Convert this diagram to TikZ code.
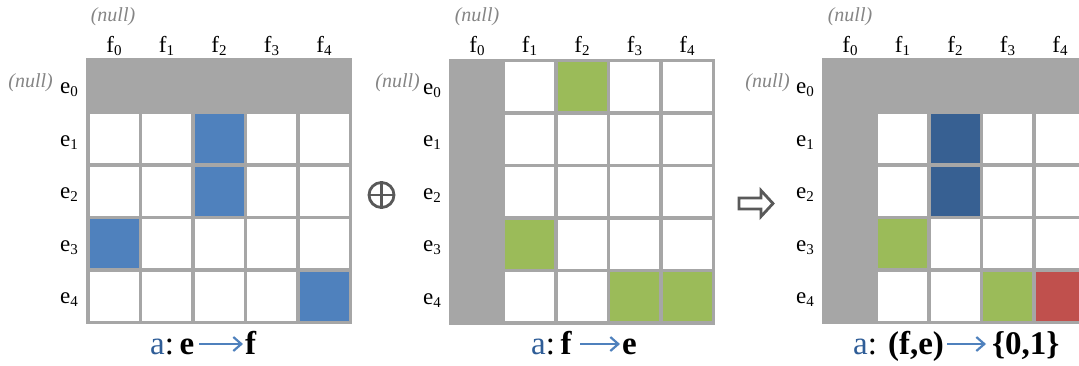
\documentclass[tikz,border=0pt]{standalone}
\usepackage{fontspec}
\setmainfont{Liberation Serif}
\usetikzlibrary{arrows.meta}
\definecolor{gridgray}{HTML}{A6A6A6}
\definecolor{cblue}{HTML}{4F81BD}
\definecolor{cdblue}{HTML}{376092}
\definecolor{cgreen}{HTML}{9BBB59}
\definecolor{cred}{HTML}{C0504D}
\definecolor{nullgray}{HTML}{858585}
\definecolor{ablue}{HTML}{2F5D97}
\definecolor{opgray}{HTML}{595959}
\newcommand\mysub[1]{\raisebox{-3pt}{\fontsize{15}{15}\selectfont #1}}
\def\pp{52.5}
\def\ww{3.6}
\newcommand\mycell[5]{\fill[#5] ({#1+\ww+#3*\pp},{#2+\ww+#4*\pp}) rectangle ++({\pp-\ww},{\pp-\ww});}
\begin{document}
\begin{tikzpicture}[x=1pt,y=-1pt,
  lbl/.style={font=\fontsize{23}{27}\selectfont, inner sep=0pt},
  nulllbl/.style={font=\fontsize{20}{24}\selectfont\itshape, text=nullgray, inner sep=0pt},
  captext/.style={font=\fontsize{33}{39}\selectfont, inner sep=0pt},
  maparrow/.style={draw=cblue, line width=2.2pt, -{Straight Barb[length=8pt,width=14pt]}},
  opline/.style={draw=opgray, line width=2.8pt}
]
\useasboundingbox (0,0) rectangle (1079,365);
\clip (0,0) rectangle (1079,365);

% ---------- left grid: a: e -> f ----------
\fill[gridgray] (86,58) rectangle ++({5*\pp+\ww},{5*\pp+\ww});
\foreach \i in {0,...,4} \foreach \j in {1,...,4} {\mycell{86}{58}{\i}{\j}{white}}
\mycell{86}{58}{2}{1}{cblue}
\mycell{86}{58}{2}{2}{cblue}
\mycell{86}{58}{0}{3}{cblue}
\mycell{86}{58}{4}{4}{cblue}
\foreach \i in {0,...,4} \node[lbl, anchor=base] (Lf\i) at ({86+\ww/2+(\i+0.5)*\pp},52) {f\mysub{\i}};
\foreach \j in {0,...,4} \node[lbl, anchor=base east] (Le\j) at (78,{86+\j*\pp+7.5}) {e\mysub{\j}};
\node[nulllbl, anchor=base] (Lnt) at (113,21) {(null)};
\node[nulllbl, anchor=base east] (Lnl) at (53,87) {(null)};

% ---------- middle grid: a: f -> e ----------
\fill[gridgray] (449,58.5) rectangle ++({5*\pp+\ww},{5*\pp+\ww});
\foreach \i in {1,...,4} \foreach \j in {0,...,4} {\mycell{449}{58.5}{\i}{\j}{white}}
\mycell{449}{58.5}{2}{0}{cgreen}
\mycell{449}{58.5}{1}{3}{cgreen}
\mycell{449}{58.5}{3}{4}{cgreen}
\mycell{449}{58.5}{4}{4}{cgreen}
\foreach \i in {0,...,4} \node[lbl, anchor=base] (Mf\i) at ({449+\ww/2+(\i+0.5)*\pp},52) {f\mysub{\i}};
\foreach \j in {0,...,4} \node[lbl, anchor=base east] (Me\j) at (441,{86.5+\j*\pp+7.5}) {e\mysub{\j}};
\node[nulllbl, anchor=base] (Mnt) at (477,21) {(null)};
\node[nulllbl, anchor=base east] (Mnl) at (420,87) {(null)};

% ---------- right grid: a: (f,e) -> {0,1} ----------
\fill[gridgray] (822,58) rectangle ++({5*\pp+\ww},{5*\pp+\ww});
\foreach \i in {1,...,4} \foreach \j in {1,...,4} {\mycell{822}{58}{\i}{\j}{white}}
\mycell{822}{58}{2}{1}{cdblue}
\mycell{822}{58}{2}{2}{cdblue}
\mycell{822}{58}{1}{3}{cgreen}
\mycell{822}{58}{3}{4}{cgreen}
\mycell{822}{58}{4}{4}{cred}
\foreach \i in {0,...,4} \node[lbl, anchor=base] (Rf\i) at ({822+\ww/2+(\i+0.5)*\pp},52) {f\mysub{\i}};
\foreach \j in {0,...,4} \node[lbl, anchor=base east] (Re\j) at (814,{86+\j*\pp+7.5}) {e\mysub{\j}};
\node[nulllbl, anchor=base] (Rnt) at (850,21) {(null)};
\node[nulllbl, anchor=base east] (Rnl) at (790,87) {(null)};

% ---------- operators ----------
\node[circle, opline, minimum size=25pt, inner sep=0pt] (oplus) at (381.5,195) {};
\draw[opline] (oplus.north) -- (oplus.south);
\draw[opline] (oplus.west) -- (oplus.east);
\draw[opline, line join=miter] (739,198) -- (761,198) -- (761,190.5) -- (773,203.5) -- (761,216.5) -- (761,209) -- (739,209) -- cycle;

% ---------- captions ----------
\node[captext, anchor=base west] (cL1) at (150,354) {\textcolor{ablue}{a}:\,\textbf{e}};
\node[captext, anchor=base west] (cL2) at (245,354) {\textbf{f}};
\draw[maparrow] ([xshift=5pt,yshift=10pt]cL1.base east) -- ([xshift=-2pt,yshift=10pt]cL2.base west);

\node[captext, anchor=base west] (cM1) at (531,354) {\textcolor{ablue}{a}:\,\textbf{f}};
\node[captext, anchor=base west] (cM2) at (622,354) {\textbf{e}};
\draw[maparrow] ([xshift=8pt,yshift=10pt]cM1.base east) -- ([xshift=-2pt,yshift=10pt]cM2.base west);

\node[captext, anchor=base west] (cR1) at (853,354) {\textcolor{ablue}{a}: \textbf{(f,e)}};
\node[captext, anchor=base west] (cR2) at (992,354) {\textbf{\{0,1\}}};
\draw[maparrow] ([xshift=3pt,yshift=10pt]cR1.base east) -- ([xshift=-6pt,yshift=10pt]cR2.base west);
\end{tikzpicture}
\end{document}
